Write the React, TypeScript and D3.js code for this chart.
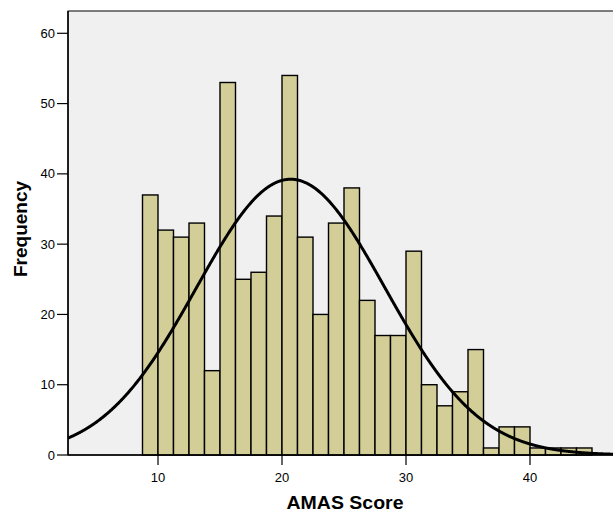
import React from "react";
import * as d3 from "d3";

const counts = [37, 32, 31, 33, 12, 53, 25, 26, 34, 54, 31, 20, 33, 38, 22, 17, 17, 29, 10, 7, 9, 15, 1, 4, 4, 1, 1, 1, 1];
const binStart = 8.75;
const binWidth = 1.25;
const xTicks = [10, 20, 30, 40];
const yTicks = [0, 10, 20, 30, 40, 50, 60];
const curveMean = 20.7;
const curveSd = 7.6;

export default function App() {
  const W = 613, H = 512;
  const left = 68, right = 613, top = 11, bottom = 455;
  const x = d3.scaleLinear().domain([10, 40]).range([158, 530]);
  const y = d3.scaleLinear().domain([0, 60]).range([455, 33.3]);
  const N = d3.sum(counts);
  const xMin = x.invert(left), xMax = x.invert(right);
  const pts = d3.range(xMin, xMax + 0.05, 0.05).map((v) => {
    const dens = Math.exp(-((v - curveMean) ** 2) / (2 * curveSd * curveSd)) / (curveSd * Math.sqrt(2 * Math.PI));
    return [v, dens * N * binWidth] as [number, number];
  });
  const line = d3.line<[number, number]>().x((d) => x(d[0])).y((d) => y(d[1])).curve(d3.curveBasis);
  const font = "'Liberation Sans', Arial, sans-serif";
  return (
    <svg width={W} height={H} style={{ position: "absolute", left: 0, top: 0 }} fontFamily={font}>
      <defs>
        <clipPath id="plotclip">
          <rect x={left} y={top} width={right - left} height={bottom - top} />
        </clipPath>
      </defs>
      <rect x={0} y={0} width={W} height={H} fill="#fff" />
      <rect x={left} y={top} width={right - left + 5} height={bottom - top} fill="#F0F0F0" stroke="#000" strokeWidth={1} />
      <g>
        {counts.map((c, i) => {
          const x0 = x(binStart + i * binWidth);
          const x1 = x(binStart + (i + 1) * binWidth);
          return (
            <rect key={i} x={x0} y={y(c)} width={x1 - x0} height={y(0) - y(c)} fill="#D3CE97" stroke="#000" strokeWidth={1.4} />
          );
        })}
      </g>
      <path d={line(pts) || ""} fill="none" stroke="#000" strokeWidth={3} clipPath="url(#plotclip)" />
      <line x1={left} y1={top} x2={left} y2={bottom} stroke="#000" strokeWidth={1.5} />
      <line x1={left} y1={bottom} x2={right} y2={bottom} stroke="#000" strokeWidth={1.5} />
      {yTicks.map((t) => (
        <g key={t}>
          <line x1={57} x2={left} y1={y(t)} y2={y(t)} stroke="#000" strokeWidth={1.2} />
          <text x={55} y={y(t)} dy="0.35em" textAnchor="end" fontSize={13} fill="#000">{t}</text>
        </g>
      ))}
      {xTicks.map((t) => (
        <g key={t}>
          <line x1={x(t)} x2={x(t)} y1={bottom} y2={bottom + 10} stroke="#000" strokeWidth={1.2} />
          <text x={x(t)} y={482} textAnchor="middle" fontSize={13} fill="#000">{t}</text>
        </g>
      ))}
      <text x={345} y={509} textAnchor="middle" fontSize={18} fontWeight="bold" textLength={117} lengthAdjust="spacingAndGlyphs">AMAS Score</text>
      <text transform={`translate(27,229) rotate(-90)`} textAnchor="middle" fontSize={18} fontWeight="bold" textLength={96} lengthAdjust="spacingAndGlyphs">Frequency</text>
    </svg>
  );
}
